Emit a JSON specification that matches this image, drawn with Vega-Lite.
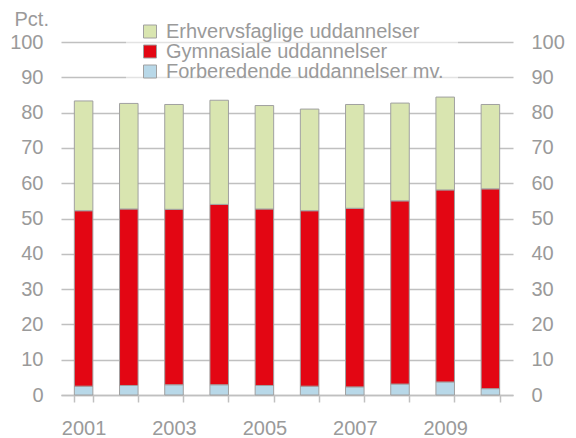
{
  "$schema": "https://vega.github.io/schema/vega-lite/v6.json",
  "width": 452,
  "height": 353,
  "autosize": "none",
  "padding": {"left": 61, "top": 42, "right": 63, "bottom": 43},
  "background": "white",
  "config": {"view": {"stroke": null}, "font": "Liberation Sans"},
  "data": {"values": [
    {"year": "2001", "serie": "Forberedende uddannelser mv.", "value": 2.5},
    {"year": "2001", "serie": "Gymnasiale uddannelser", "value": 49.7},
    {"year": "2001", "serie": "Erhvervsfaglige uddannelser", "value": 31.1},
    {"year": "2002", "serie": "Forberedende uddannelser mv.", "value": 2.7},
    {"year": "2002", "serie": "Gymnasiale uddannelser", "value": 50.0},
    {"year": "2002", "serie": "Erhvervsfaglige uddannelser", "value": 29.9},
    {"year": "2003", "serie": "Forberedende uddannelser mv.", "value": 2.9},
    {"year": "2003", "serie": "Gymnasiale uddannelser", "value": 49.7},
    {"year": "2003", "serie": "Erhvervsfaglige uddannelser", "value": 29.7},
    {"year": "2004", "serie": "Forberedende uddannelser mv.", "value": 2.9},
    {"year": "2004", "serie": "Gymnasiale uddannelser", "value": 51.1},
    {"year": "2004", "serie": "Erhvervsfaglige uddannelser", "value": 29.5},
    {"year": "2005", "serie": "Forberedende uddannelser mv.", "value": 2.7},
    {"year": "2005", "serie": "Gymnasiale uddannelser", "value": 50.0},
    {"year": "2005", "serie": "Erhvervsfaglige uddannelser", "value": 29.3},
    {"year": "2006", "serie": "Forberedende uddannelser mv.", "value": 2.5},
    {"year": "2006", "serie": "Gymnasiale uddannelser", "value": 49.7},
    {"year": "2006", "serie": "Erhvervsfaglige uddannelser", "value": 28.8},
    {"year": "2007", "serie": "Forberedende uddannelser mv.", "value": 2.3},
    {"year": "2007", "serie": "Gymnasiale uddannelser", "value": 50.6},
    {"year": "2007", "serie": "Erhvervsfaglige uddannelser", "value": 29.4},
    {"year": "2008", "serie": "Forberedende uddannelser mv.", "value": 3.1},
    {"year": "2008", "serie": "Gymnasiale uddannelser", "value": 51.9},
    {"year": "2008", "serie": "Erhvervsfaglige uddannelser", "value": 27.7},
    {"year": "2009", "serie": "Forberedende uddannelser mv.", "value": 3.7},
    {"year": "2009", "serie": "Gymnasiale uddannelser", "value": 54.4},
    {"year": "2009", "serie": "Erhvervsfaglige uddannelser", "value": 26.3},
    {"year": "2010", "serie": "Forberedende uddannelser mv.", "value": 1.8},
    {"year": "2010", "serie": "Gymnasiale uddannelser", "value": 56.6},
    {"year": "2010", "serie": "Erhvervsfaglige uddannelser", "value": 23.9}
  ]},
  "transform": [
    {"calculate": "indexof(['Forberedende uddannelser mv.','Gymnasiale uddannelser','Erhvervsfaglige uddannelser'], datum.serie)", "as": "stackorder"}
  ],
  "encoding": {
    "x": {
      "field": "year", "type": "ordinal",
      "scale": {"paddingInner": 0.59, "paddingOuter": 0.295},
      "axis": {
        "title": null, "tickBand": "extent", "grid": false,
        "domainColor": "#c0c0c0", "domainWidth": 1.5,
        "tickColor": "#c0c0c0", "tickWidth": 1.5, "tickSize": 7,
        "labelAngle": 0, "labelFontSize": 20, "labelColor": "#9a9a9a", "labelPadding": 16,
        "labelExpr": "parseInt(datum.value) % 2 == 1 ? datum.label : ''"
      }
    }
  },
  "layer": [
    {
      "mark": {"type": "bar", "stroke": "#a0a0a0", "strokeWidth": 1},
      "encoding": {
        "y": {
          "field": "value", "type": "quantitative", "stack": "zero",
          "scale": {"domain": [0, 100]},
          "axis": {
            "orient": "left", "values": [0, 10, 20, 30, 40, 50, 60, 70, 80, 90, 100],
            "grid": true, "gridColor": "#c0c0c0", "gridWidth": 1.5,
            "domain": false, "ticks": false, "labelPadding": 18,
            "labelFontSize": 20, "labelColor": "#9a9a9a",
            "title": "Pct.", "titleAngle": 0, "titleAlign": "left", "titleBaseline": "alphabetic",
            "titleX": -47, "titleY": -17, "titleFontSize": 20, "titleFontWeight": "normal", "titleColor": "#9a9a9a"
          }
        },
        "color": {
          "field": "serie", "type": "nominal",
          "scale": {
            "domain": ["Erhvervsfaglige uddannelser", "Gymnasiale uddannelser", "Forberedende uddannelser mv."],
            "range": ["#d9e5b0", "#e30613", "#b8d8e8"]
          },
          "legend": {
            "title": null, "orient": "none", "legendX": 65, "legendY": -34.5,
            "symbolType": "square", "symbolSize": 169, "symbolStrokeColor": "#a0a0a0", "symbolStrokeWidth": 1,
            "labelFontSize": 20, "labelColor": "#9a9a9a", "labelOffset": 6, "rowPadding": -1,
            "labelLimit": 0,
            "padding": 14, "fillColor": "rgba(255,255,255,0.55)"
          }
        },
        "order": {"field": "stackorder", "type": "quantitative"}
      }
    },
    {
      "mark": {"type": "rule", "opacity": 0},
      "encoding": {
        "y": {
          "datum": 0, "type": "quantitative",
          "scale": {"domain": [0, 100]},
          "axis": {
            "orient": "right", "values": [0, 10, 20, 30, 40, 50, 60, 70, 80, 90, 100],
            "grid": false, "domain": false, "ticks": false, "labelPadding": 18,
            "labelFontSize": 20, "labelColor": "#9a9a9a", "title": null
          }
        }
      }
    }
  ],
  "resolve": {"axis": {"y": "independent"}}
}
